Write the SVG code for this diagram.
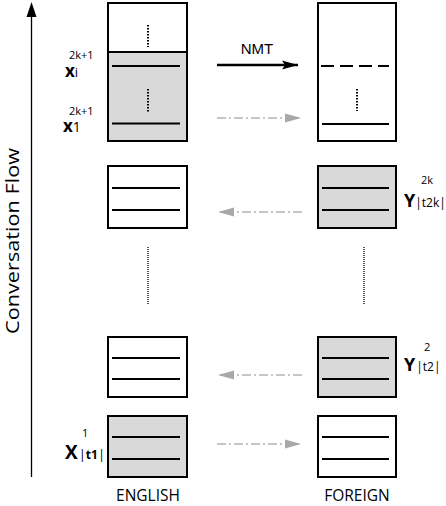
<svg xmlns="http://www.w3.org/2000/svg" width="446" height="506" viewBox="0 0 446 506">
<style>
.box{stroke:#000;stroke-width:2;}
.w{fill:#fff;}
.g{fill:#d9d9d9;}
.ln{stroke:#000;stroke-width:2;fill:none;}
.dot{stroke:#000;stroke-width:2;stroke-dasharray:1.5 1.5;fill:none;}
.vdot{stroke:#000;stroke-width:1.3;stroke-dasharray:1 1;fill:none;}
.gray{stroke:#b3b3b3;stroke-width:1.3;stroke-dasharray:9 3 2 3;fill:none;}
.t{font-family:"Open Sans","DejaVu Sans",sans-serif;fill:#000;}
.b{font-weight:bold;}
</style>
<defs>
<marker id="gh" markerUnits="userSpaceOnUse" markerWidth="17" markerHeight="10" refX="16" refY="5" orient="auto">
<path d="M0,0.5 L16,5 L0,9.5 z" fill="#a8a8a8"/>
</marker>
<marker id="bh" markerUnits="userSpaceOnUse" markerWidth="17" markerHeight="10" refX="16" refY="5" orient="auto">
<path d="M0,0.5 L16,5 L0,9.5 L3,5 z" fill="#000"/>
</marker>
</defs>

<g id="axis">
<line x1="31.5" y1="477" x2="31.5" y2="14" stroke="#000" stroke-width="1.3"/>
<polygon points="31.5,2 26.5,17 36.5,17" fill="#000"/>
<text class="t" transform="translate(19,241) rotate(-90)" text-anchor="middle" font-size="18" textLength="186" lengthAdjust="spacingAndGlyphs">Conversation Flow</text>
</g>

<g id="en-top">
<rect class="box w" x="108" y="3" width="79" height="138"/>
<rect class="box g" x="108" y="52" width="79" height="89"/>
<line class="dot" x1="148" y1="25" x2="148" y2="47"/>
<line class="ln" x1="112" y1="66" x2="180" y2="66" stroke-width="1.5"/>
<line class="dot" x1="148" y1="89" x2="148" y2="112"/>
<line class="ln" x1="112" y1="123.5" x2="180" y2="123.5"/>
</g>

<g id="fr-top">
<rect class="box w" x="318" y="3" width="78" height="138"/>
<line class="ln" x1="321" y1="66" x2="389" y2="66" stroke-width="1.5" stroke-dasharray="13 6"/>
<line class="dot" x1="357" y1="89" x2="357" y2="111"/>
<line class="ln" x1="322" y1="124" x2="389" y2="124"/>
</g>

<g id="en-2k">
<rect class="box w" x="108" y="166" width="79" height="62"/>
<line class="ln" x1="112" y1="188" x2="180" y2="188"/>
<line class="ln" x1="112" y1="210" x2="180" y2="210"/>
</g>
<g id="fr-2k">
<rect class="box g" x="318" y="166" width="78" height="62"/>
<line class="ln" x1="322" y1="188" x2="389" y2="188"/>
<line class="ln" x1="322" y1="210" x2="389" y2="210"/>
</g>

<g id="en-2">
<rect class="box w" x="108" y="337" width="79" height="60"/>
<line class="ln" x1="112" y1="358" x2="180" y2="358"/>
<line class="ln" x1="112" y1="379" x2="180" y2="379"/>
</g>
<g id="fr-2">
<rect class="box g" x="318" y="337" width="78" height="60"/>
<line class="ln" x1="322" y1="358" x2="389" y2="358"/>
<line class="ln" x1="322" y1="379" x2="389" y2="379"/>
</g>

<g id="en-1">
<rect class="box g" x="108" y="416" width="79" height="61"/>
<line class="ln" x1="112" y1="437" x2="180" y2="437"/>
<line class="ln" x1="112" y1="459" x2="180" y2="459"/>
</g>
<g id="fr-1">
<rect class="box w" x="318" y="416" width="78" height="61"/>
<line class="ln" x1="322" y1="437" x2="389" y2="437"/>
<line class="ln" x1="322" y1="459" x2="389" y2="459"/>
</g>

<g id="connectors">
<line x1="217" y1="65" x2="298" y2="65" stroke="#000" stroke-width="2.5" marker-end="url(#bh)"/>
<line class="gray" x1="217" y1="118" x2="301" y2="118" marker-end="url(#gh)"/>
<line class="gray" x1="302" y1="212" x2="218" y2="212" marker-end="url(#gh)"/>
<line class="gray" x1="302" y1="375" x2="218" y2="375" marker-end="url(#gh)"/>
<line class="gray" x1="217" y1="444" x2="301" y2="444" marker-end="url(#gh)"/>
<line class="vdot" x1="148" y1="247" x2="148" y2="305"/>
<line class="vdot" x1="364" y1="247" x2="364" y2="305"/>
</g>

<g id="labels">
<text x="257" y="54" font-family="Liberation Sans,Arial,sans-serif" font-size="15" text-anchor="middle">NMT</text>
<text class="t" x="69" y="59" font-size="11">2k+1</text>
<text class="t" x="65" y="77"><tspan class="b" font-size="17">x</tspan><tspan font-size="13">i</tspan></text>
<text class="t" x="69" y="115" font-size="11">2k+1</text>
<text class="t" x="63" y="132"><tspan class="b" font-size="17">x</tspan><tspan font-size="14">1</tspan></text>
<text class="t" x="421" y="184" font-size="11">2k</text>
<text class="t" x="404" y="207"><tspan class="b" font-size="18">Y</tspan><tspan font-size="12">|t2k|</tspan></text>
<text class="t" x="424" y="351" font-size="11">2</text>
<text class="t" x="404" y="371"><tspan class="b" font-size="18">Y</tspan><tspan font-size="12" dx="1">|t2|</tspan></text>
<text class="t" x="82" y="437" font-size="11">1</text>
<text class="t" x="65" y="459"><tspan class="b" font-size="19">X</tspan><tspan font-size="13" dx="1">|</tspan><tspan class="b" font-size="12">t1</tspan><tspan font-size="13">|</tspan></text>
<text class="t" x="148" y="501" font-size="15.5" text-anchor="middle">ENGLISH</text>
<text class="t" x="357" y="501" font-size="15.5" text-anchor="middle">FOREIGN</text>
</g>
</svg>
